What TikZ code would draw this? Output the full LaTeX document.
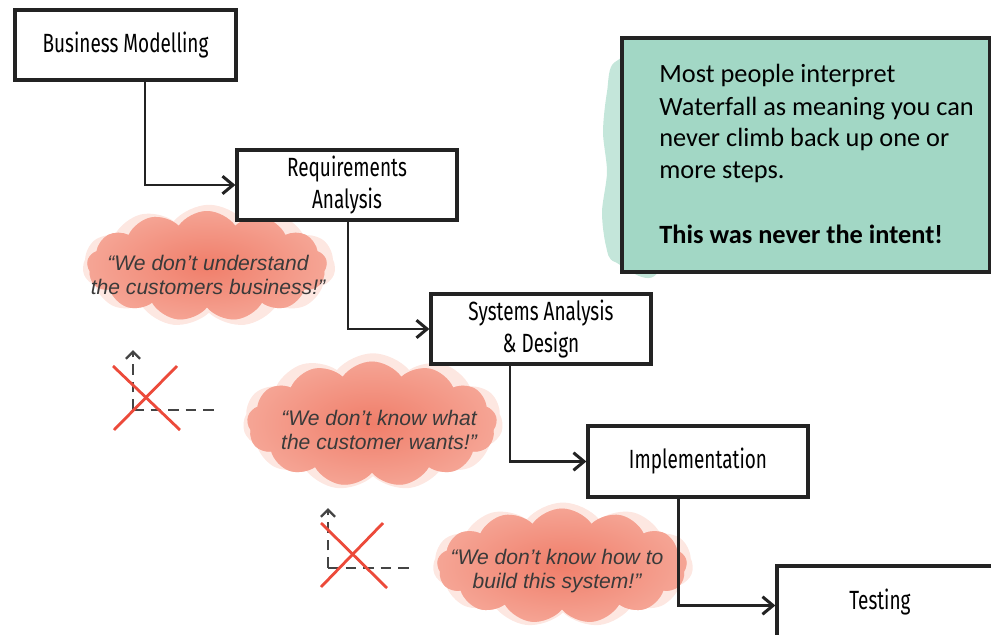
\documentclass[tikz,border=0pt]{standalone}
\usepackage{fontspec}
\setmainfont{Liberation Sans}
\newfontfamily\hand[FakeStretch=0.72]{Fira Sans}
\newfontfamily\calib{Carlito}
\usetikzlibrary{arrows.meta,shapes.symbols}
\definecolor{ink}{HTML}{232323}
\definecolor{teal1}{HTML}{A2D7C5}
\definecolor{teal2}{HTML}{C4E6DA}
\definecolor{salmon}{HTML}{F07E6A}
\definecolor{salmonlt}{HTML}{FAC9BD}
\definecolor{xred}{HTML}{EC4A3A}
\definecolor{quote}{HTML}{3A3A3A}
\tikzset{
  stepbox/.style={draw=ink, line width=1.9pt, fill=white, inner sep=0pt,
    font=\hand\fontsize{15}{18}\selectfont, align=center},
  conn/.style={draw=ink, line width=1.7pt, -{Straight Barb[length=6pt,width=10pt]}},
  blob/.style={cloud, cloud puffs=13, cloud puff arc=110, draw=none, fill=salmonlt,
    inner sep=0pt},
  halo/.style={cloud, cloud puffs=11, cloud puff arc=100, draw=none, fill=salmonlt,
    fill opacity=0.45, inner sep=0pt},
  quotetext/.style={font=\itshape\fontsize{12}{14}\selectfont, text=quote, align=center},
  gtext/.style={font=\calib\fontsize{15}{18}\selectfont, anchor=base west, inner sep=0pt, text=black},
  axis/.style={draw=ink!85, line width=1.4pt, dash pattern=on 6pt off 4pt},
  cross/.style={draw=xred, line width=1.6pt}
}
\begin{document}
\begin{tikzpicture}[x=0.02cm,y=-0.02cm]
\useasboundingbox (0,0) rectangle (991,635);
\clip (0,0) rectangle (991,635);

% clouds
\node[halo, minimum width=5.05cm, minimum height=2.45cm] (h1) at (209,266) {};
\node[blob, minimum width=4.8cm, minimum height=2.2cm,
  path picture={\shade[inner color=salmon, outer color=salmonlt]
    (path picture bounding box.center) ellipse [x radius=4.6cm, y radius=2.2cm];}]
  (c1) at (207,266) {};
\node[halo, minimum width=5.2cm, minimum height=2.75cm] (h2) at (373,422) {};
\node[blob, minimum width=5.0cm, minimum height=2.5cm,
  path picture={\shade[inner color=salmon, outer color=salmonlt]
    (path picture bounding box.center) ellipse [x radius=4.8cm, y radius=2.5cm];}]
  (c2) at (372,424) {};
\node[halo, minimum width=5.2cm, minimum height=2.5cm] (h3) at (563,565) {};
\node[blob, minimum width=5.0cm, minimum height=2.3cm,
  path picture={\shade[inner color=salmon, outer color=salmonlt]
    (path picture bounding box.center) ellipse [x radius=4.8cm, y radius=2.3cm];}]
  (c3) at (562,566) {};

\node[quotetext] (q1) at (208,275) {“We don’t understand\\the customers business!”};
\node[quotetext] (q2) at (379,430) {“We don’t know what\\the customer wants!”};
\node[quotetext] (q3) at (557,571) {“We don’t know how to\\build this system!”};

% green note
\fill[teal2] plot[smooth cycle] coordinates {(615,62) (607,92) (603,132) (607,172) (602,212) (606,246) (615,262) (660,266) (660,60)};
\node[draw=ink, line width=2.3pt, fill=teal1, minimum width=7.36cm, minimum height=4.68cm, inner sep=0pt]
  (note) at (806,155) {};
\node[gtext] (g1) at (659,83) {Most people interpret};
\node[gtext] (g2) at (659,115) {Waterfall as meaning you can};
\node[gtext] (g3) at (659,147) {never climb back up one or};
\node[gtext] (g4) at (659,178) {more steps.};
\node[gtext, font=\calib\bfseries\fontsize{15}{18}\selectfont] (g5) at (659,243) {This was never the intent!};

% steps
\node[stepbox, minimum width=4.42cm, minimum height=1.4cm] (bm) at (125.5,45) {Business Modelling};
\node[stepbox, minimum width=4.4cm, minimum height=1.4cm] (ra) at (347,185) {Requirements\\Analysis};
\node[stepbox, minimum width=4.4cm, minimum height=1.4cm] (sa) at (541,329) {Systems Analysis\\\& Design};
\node[stepbox, minimum width=4.4cm, minimum height=1.42cm] (im) at (698,461.5) {Implementation};
\node[stepbox, minimum width=4.46cm, minimum height=1.58cm] (te) at (888.5,605.5) {};
\node[font=\hand\fontsize{15}{18}\selectfont, inner sep=0pt] (tel) at (880,602) {Testing};

\draw[conn] (bm.south) ++(19.5,0) |- (ra.west);
\draw[conn] (ra.south) ++(1,0) |- (sa.west);
\draw[conn] (sa.south) ++(-31,0) |- (im.west);
\draw[conn] (im.south) ++(-20,0) |- (te.west);

% crossed-out axes 1
\coordinate (o1) at (133,410);
\coordinate (u1) at (133,350);
\coordinate (r1) at (218,410);
\draw[axis] (o1) -- (r1);
\draw[axis, -{Straight Barb[length=4pt,width=8pt,line width=1.4pt]}] (o1) -- (u1);
\draw[cross] (113,366) -- (180,430);
\draw[cross] (177,366) -- (114,430);

% crossed-out axes 2
\coordinate (o2) at (328,568);
\coordinate (u2) at (328,508);
\coordinate (r2) at (413,568);
\draw[axis] (o2) -- (r2);
\draw[axis, -{Straight Barb[length=4pt,width=8pt,line width=1.4pt]}] (o2) -- (u2);
\draw[cross] (321,523) -- (387,588);
\draw[cross] (383,523) -- (321,587);
\end{tikzpicture}
\end{document}
